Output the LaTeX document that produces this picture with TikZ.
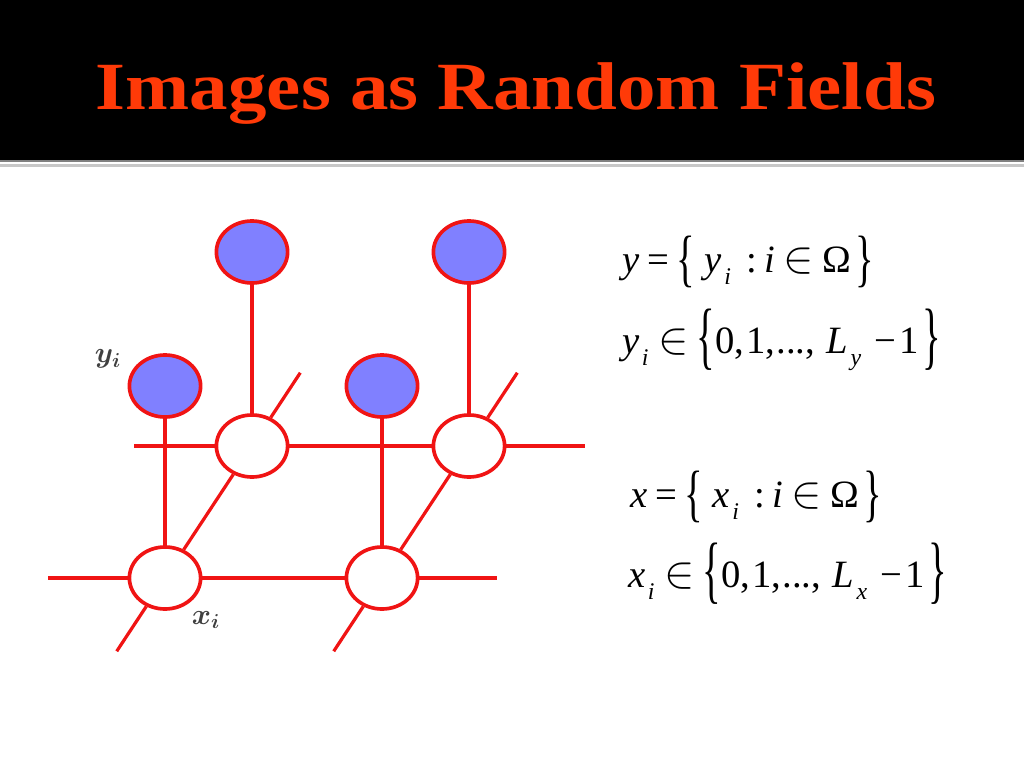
\documentclass[tikz,border=0pt]{standalone}
\usepackage{fontspec}
\setmainfont{Liberation Serif}
\newfontfamily\titlefamily{Liberation Serif}
\usetikzlibrary{shapes.geometric,calc}
\definecolor{titleRed}{RGB}{255,58,8}
\definecolor{edgeRed}{RGB}{240,20,20}
\definecolor{obsBlue}{RGB}{128,128,255}
% pieces of the set notation on the right
\newcommand{\eqsub}[1]{\kern0.06em\raisebox{-0.32em}{\fontsize{17}{17}\selectfont\itshape #1}}
\newcommand{\eqlbr}[2]{\raisebox{#2}{\scalebox{1}[#1]{\{}}}
\newcommand{\eqrbr}[2]{\raisebox{#2}{\scalebox{1}[#1]{\}}}}
\newcommand{\eqin}{\raisebox{-0.02em}{\scalebox{1.3}{$\in$}}}
\tikzset{mrfslide/.style={
  x=0.025cm, y=-0.025cm,
  site/.style={ellipse, draw=edgeRed, line width=2.6pt, minimum width=1.78cm, minimum height=1.55cm, inner sep=0pt},
  pix/.style={site, fill=white},
  obs/.style={site, fill=obsBlue},
  link/.style={draw=edgeRed, line width=2.3pt},
  lab/.style={font=\boldmath\fontsize{21}{24}\selectfont, text=black!75, inner sep=0pt},
  eqn/.style={anchor=base west, inner sep=0pt, font=\fontsize{27.5}{32}\selectfont},
  headline/.style={anchor=base, inner sep=0pt, text=titleRed, font=\titlefamily\bfseries\fontsize{48}{56}\selectfont},
}}

\begin{document}
\begin{tikzpicture}[mrfslide]
\useasboundingbox (0,0) rectangle (1024,768);

% ---- title bar ----
\fill[black] (0,0) rectangle (1024,160);
\fill[black!50] (0,160) rectangle (1024,162);
\fill[black!22] (0,164) rectangle (1024,167);
\node[headline] (title) at (516,110) {\scalebox{1.14}[1]{Images as Random Fields}};

% ---- hidden sites x_i (white) ----
\node[pix] (pixB1) at (252,446) {};
\node[pix] (pixB2) at (469,446) {};
\node[pix] (pixF1) at (165,578) {};
\node[pix] (pixF2) at (382,578) {};

% ---- observed sites y_i (blue) ----
\node[obs] (obsB1) at (252,252) {};
\node[obs] (obsB2) at (469,252) {};
\node[obs] (obsF1) at (165,386) {};
\node[obs] (obsF2) at (382,386) {};

% ---- free ends of the lattice ----
\coordinate (rowB0) at (134,446);
\coordinate (rowB3) at (585,446);
\coordinate (rowF0) at (48,578);
\coordinate (rowF3) at (497,578);
\coordinate (dTop1) at ($(pixF1)!1.555!(pixB1)$);
\coordinate (dBot1) at ($(pixB1)!1.555!(pixF1)$);
\coordinate (dTop2) at ($(pixF2)!1.555!(pixB2)$);
\coordinate (dBot2) at ($(pixB2)!1.555!(pixF2)$);

% ---- lattice edges ----
\draw[link] (rowB0) -- (pixB1) -- (pixB2) -- (rowB3);
\draw[link] (rowF0) -- (pixF1) -- (pixF2) -- (rowF3);
\draw[link] (dBot1) -- (pixF1) -- (pixB1) -- (dTop1);
\draw[link] (dBot2) -- (pixF2) -- (pixB2) -- (dTop2);

% ---- observation edges ----
\draw[link] (obsB1) -- (pixB1);
\draw[link] (obsB2) -- (pixB2);
\draw[link] (obsF1) -- (pixF1);
\draw[link] (obsF2) -- (pixF2);

% ---- labels ----
\node[lab] (ylab) at (108,359) {$y_i$};
\node[lab] (xlab) at (206,620) {$x_i$};

% ---- set notation ----
\node[eqn] (eqY) at (622,272)
  {\itshape y\upshape\kern0.2em=\kern0.2em\eqlbr{1.62}{-0.2em}\kern0.25em\itshape y\eqsub{i}\upshape\kern0.4em:\kern0.18em\itshape i\upshape\kern0.22em\eqin\kern0.22emΩ\kern0.12em\eqrbr{1.62}{-0.2em}};
\node[eqn] (eqYr) at (622,353)
  {\itshape y\eqsub{i}\upshape\kern0.25em\eqin\kern0.22em\eqlbr{1.92}{-0.2em}0,\kern0.05em1,\kern0.03em...,\kern0.3em\itshape L\eqsub{y}\upshape\kern0.35em−\kern0.08em1\kern0.08em\eqrbr{1.92}{-0.2em}};
\node[eqn] (eqX) at (630,507)
  {\itshape x\upshape\kern0.2em=\kern0.2em\eqlbr{1.62}{-0.2em}\kern0.25em\itshape x\eqsub{i}\upshape\kern0.4em:\kern0.18em\itshape i\upshape\kern0.22em\eqin\kern0.22emΩ\kern0.12em\eqrbr{1.62}{-0.2em}};
\node[eqn] (eqXr) at (628,587)
  {\itshape x\eqsub{i}\upshape\kern0.25em\eqin\kern0.22em\eqlbr{1.92}{-0.2em}0,\kern0.05em1,\kern0.03em...,\kern0.3em\itshape L\eqsub{x}\upshape\kern0.35em−\kern0.08em1\kern0.08em\eqrbr{1.92}{-0.2em}};
\end{tikzpicture}
\end{document}
